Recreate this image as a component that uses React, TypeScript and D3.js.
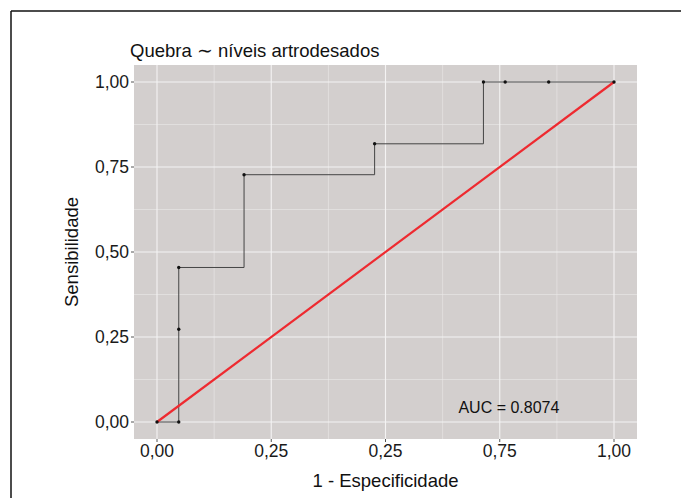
import React from 'react';
import * as d3 from 'd3';

// roc points: 1 - specificity (fpr) and sensitivity (tpr)
const fpr = [0, 0.0476, 0.0476, 0.0476, 0.1905, 0.4762, 0.7143, 0.7619, 0.8571, 1.0];
const tpr = [0, 0, 0.2727, 0.4545, 0.7273, 0.8182, 1.0, 1.0, 1.0, 1.0];
const ticks = [0, 0.25, 0.5, 0.75, 1];
const xTickLabels = ['0,00', '0,25', '0,25', '0,75', '1,00'];
const yTickLabels = ['0,00', '0,25', '0,50', '0,75', '1,00'];
const minorTicks = [0.125, 0.375, 0.625, 0.875];
const title = 'Quebra ∼ níveis artrodesados';
const aucLabel = 'AUC = 0.8074';

const font = '"Liberation Sans", Arial, sans-serif';

export default function App() {
  const W = 681, H = 498;
  const panel = {left: 134, right: 637, top: 65, bottom: 439};

  const x = d3.scaleLinear().domain([0, 1]).range([157, 614]);
  const y = d3.scaleLinear().domain([0, 1]).range([422, 82]);

  const pts: [number, number][] = fpr.map((f, i) => [f, tpr[i]]);
  const stepLine = d3.line<[number, number]>()
    .x((d) => x(d[0]))
    .y((d) => y(d[1]))
    .curve(d3.curveStepAfter);

  return (
    <svg width={W} height={H} style={{position: 'absolute', left: 0, top: 0}}>
      <rect x={0} y={0} width={W} height={H} fill="white" />
      {/* frame */}
      <line x1={11} x2={W} y1={11} y2={11} stroke="#111" strokeWidth={1.5} />
      <line x1={11} x2={11} y1={11} y2={H} stroke="#111" strokeWidth={1.5} />

      <rect x={panel.left} y={panel.top} width={panel.right - panel.left}
        height={panel.bottom - panel.top} fill="#d3cfce" />

      {/* minor grid */}
      {minorTicks.map((t) => (
        <g key={'m' + t}>
          <line x1={x(t)} x2={x(t)} y1={panel.top} y2={panel.bottom} stroke="#ebe9e9" strokeWidth={0.6} />
          <line x1={panel.left} x2={panel.right} y1={y(t)} y2={y(t)} stroke="#ebe9e9" strokeWidth={0.6} />
        </g>
      ))}
      {/* major grid */}
      {ticks.map((t) => (
        <g key={'g' + t}>
          <line x1={x(t)} x2={x(t)} y1={panel.top} y2={panel.bottom} stroke="#f4f3f3" strokeWidth={1.1} />
          <line x1={panel.left} x2={panel.right} y1={y(t)} y2={y(t)} stroke="#f4f3f3" strokeWidth={1.1} />
        </g>
      ))}

      {/* step roc curve */}
      <path d={stepLine(pts) || ''} fill="none" stroke="#444" strokeWidth={1} />
      {/* diagonal */}
      <line x1={x(0)} y1={y(0)} x2={x(1)} y2={y(1)} stroke="#ee2a30" strokeWidth={2.2} />
      {pts.map((d, i) => (
        <circle key={i} cx={x(d[0])} cy={y(d[1])} r={1.7} fill="#111" />
      ))}

      {/* axes ticks and labels */}
      {ticks.map((t, i) => (
        <g key={'x' + t}>
          <line x1={x(t)} x2={x(t)} y1={panel.bottom} y2={panel.bottom + 3} stroke="#555" />
          <text x={x(t)} y={457} textAnchor="middle" fontFamily={font} fontSize={17.5} fill="#1a1a1a">
            {xTickLabels[i]}
          </text>
        </g>
      ))}
      {ticks.map((t, i) => (
        <g key={'y' + t}>
          <line x1={panel.left - 3} x2={panel.left} y1={y(t)} y2={y(t)} stroke="#555" />
          <text x={panel.left - 5} y={y(t)} dy="0.35em" textAnchor="end" fontFamily={font} fontSize={17.5} fill="#1a1a1a">
            {yTickLabels[i]}
          </text>
        </g>
      ))}

      <text x={130} y={57} fontFamily={font} fontSize={18.5} fill="#111">{title}</text>
      <text x={(panel.left + panel.right) / 2} y={487} textAnchor="middle" fontFamily={font} fontSize={18.5} fill="#111">
        1 - Especificidade
      </text>
      <text transform={`translate(78,${(panel.top + panel.bottom) / 2}) rotate(-90)`} textAnchor="middle"
        fontFamily={font} fontSize={18.5} fill="#111">
        Sensibilidade
      </text>
      <text x={x(0.77)} y={413} textAnchor="middle" fontFamily={font} fontSize={16} fill="#111">{aucLabel}</text>
    </svg>
  );
}
